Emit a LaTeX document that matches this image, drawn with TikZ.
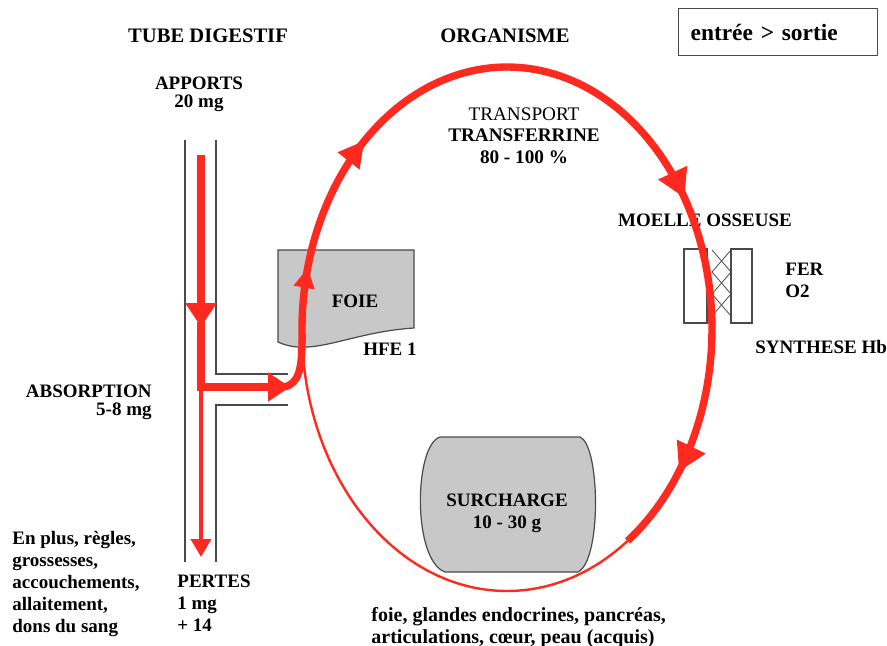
\documentclass[tikz,border=0pt]{standalone}
\usepackage{fontspec}
\setmainfont{Liberation Serif}
\usepackage{tikz}
\usetikzlibrary{arrows.meta,positioning}
\definecolor{fluxred}{HTML}{FF2A1F}
\definecolor{organgray}{HTML}{C8C8C8}
\definecolor{edgegray}{HTML}{4A4A4A}

\begin{document}
\begin{tikzpicture}[x=0.5pt,y=-0.5pt,>=Triangle,
  title/.style={inner sep=0pt,font=\fontsize{10.3}{11}\selectfont\bfseries},
  lbl/.style={inner sep=0pt,font=\fontsize{9.5}{11}\selectfont\bfseries},
  lbltight/.style={inner sep=0pt,font=\fontsize{9.5}{9}\selectfont\bfseries},
  wall/.style={edgegray,line width=0.6pt},
  organ/.style={draw=edgegray,fill=organgray,line width=0.6pt},
  flux/.style={fluxred,line width=3.7pt},
  fluxthin/.style={fluxred,line width=1.2pt}]
  \useasboundingbox (0,0) rectangle (887,646);

  % titres
  \node[title,anchor=north] (tube) at (208,28) {TUBE DIGESTIF};
  \node[title,anchor=north] (organisme) at (505,28) {ORGANISME};
  \node[draw=edgegray,line width=0.6pt,anchor=north west,text width=87.5pt,
        inner xsep=6pt,inner ysep=0pt,minimum height=23.5pt,align=left,
        font=\fontsize{11.7}{13}\selectfont\bfseries] (bilan) at (678,8) {entrée > sortie};

  % tube digestif
  \draw[wall] (185,140) -- (185,562);
  \draw[wall] (216,140) -- (216,374) -- (288,374);
  \draw[wall] (288,405) -- (216,405) -- (216,562);
  \node[lbltight,anchor=north,align=center] (apports) at (199,77) {APPORTS\\20 mg};
  \node[lbltight,anchor=north east,align=right] (absorption) at (152,385) {ABSORPTION\\5-8 mg};
  \node[lbl,anchor=north west,align=left] (pertes) at (177,575) {PERTES\\1 mg\\+ 14};
  \node[lbl,anchor=north west,align=left] (enplus) at (12,531)
    {En plus, règles,\\grossesses,\\accouchements,\\allaitement,\\dons du sang};

  % foie
  \draw[organ] (278,250) -- (414,250) -- (414,328)
    .. controls (350,332) and (312,358) .. (278,342) -- cycle;
  \node[lbl] (foie) at (355,301) {FOIE};
  \node[lbl,anchor=north] (hfe) at (390,343) {HFE 1};

  % cycle du fer
  \draw[fluxthin] (507,329) ellipse [x radius=205, y radius=262];
  \draw[organ] (440,437) -- (580,437) .. controls (600,445) and (602,560) .. (578,572)
    -- (445,572) .. controls (412,560) and (414,445) .. (440,437) -- cycle;
  \node[lbl,anchor=north,align=center] (surcharge) at (507,494) {SURCHARGE\\10 - 30 g};
  \node[inner sep=0pt,anchor=north,align=center,font=\fontsize{9.6}{10.8}\selectfont] (transport) at (524,107)
    {TRANSPORT\\\textbf{TRANSFERRINE}\\\textbf{80 - 100 \%}};
  \node[anchor=north west,inner sep=0pt,align=left,font=\fontsize{10}{10.8}\selectfont\bfseries] (depots) at (371,607)
    {foie, glandes endocrines, pancréas,\\articulations, cœur, peau (acquis)};

  % moelle osseuse
  \node[lbl,anchor=north] (moelle) at (705,214) {MOELLE OSSEUSE};
  \draw[wall] (684,249) rectangle (707,323);
  \draw[wall] (731,249) rectangle (752,323);
  \foreach \y in {250,272,294}{
    \draw[edgegray,line width=0.4pt] (712,\y) -- (731,\y+22);
    \draw[edgegray,line width=0.4pt] (731,\y) -- (712,\y+22);
  }
  \node[lbl,anchor=north west,align=left] (fer) at (785,263) {FER\\O2};
  \node[lbl,anchor=north west] (synthese) at (755,340) {SYNTHESE Hb};

  % flux de fer
  \draw[flux,-{Triangle[length=12pt,width=15pt]}] (201,155) -- (201,327);
  \draw[flux,-{Triangle[length=11pt,width=14pt]}] (201,322) -- (201,387) -- (290,387);
  \draw[fluxred,line width=1.9pt,-{Triangle[length=9pt,width=10pt]}] (201,387) -- (201,557);
  \draw[flux] (284,387) .. controls (299,384) and (302,368) .. (302,340);
  \draw[flux,-{Triangle[length=10pt,width=10pt]}]
    plot[domain=183:166.5,samples=15] ({507+205*cos(\x)},{329-262*sin(\x)});
  \draw[flux,-{Triangle[length=13pt,width=13pt]}]
    plot[domain=168:134,samples=25] ({507+205*cos(\x)},{329-262*sin(\x)});
  \draw[flux,-{Triangle[length=14pt,width=15pt]}]
    plot[domain=136:30,samples=60] ({507+205*cos(\x)},{329-262*sin(\x)});
  \draw[flux,-{Triangle[length=14pt,width=15pt]}]
    plot[domain=33.5:-33,samples=40] ({507+205*cos(\x)},{329-262*sin(\x)});
  \draw[flux]
    plot[domain=-30:-54,samples=15] ({507+205*cos(\x)},{329-262*sin(\x)});
\end{tikzpicture}
\end{document}
